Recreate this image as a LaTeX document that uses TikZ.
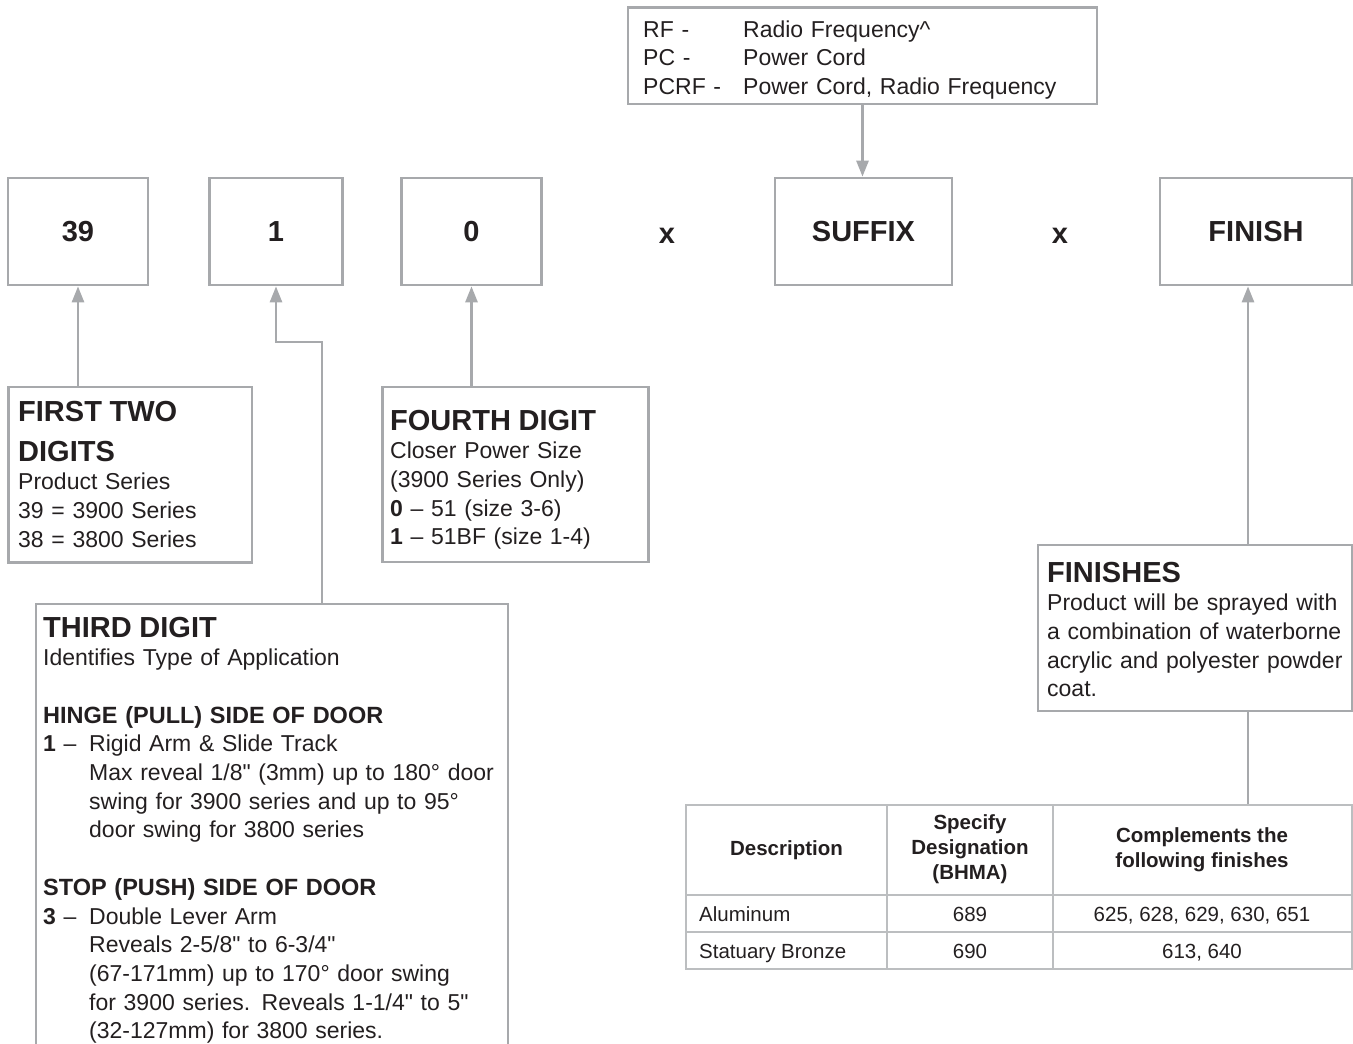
\documentclass[tikz,border=0pt]{standalone}
\usepackage{fontspec}
\setmainfont{Liberation Sans}[Ligatures=TeXOff]
\usetikzlibrary{arrows.meta}

\definecolor{linegray}{HTML}{A7A9AC}
\definecolor{rulegray}{HTML}{BCBEC0}
\definecolor{ink}{HTML}{231F20}

\newcommand\headfont{\fontsize{29}{34}\selectfont\bfseries}
\newcommand\subfont{\fontsize{23.5}{28.7}\selectfont\bfseries}
\newcommand\bodyfont{\fontsize{23}{28.7}\selectfont}
\newcommand\cellfont{\fontsize{20.5}{25}\selectfont}
\newcommand\itemno[1]{\makebox[46pt][l]{\textbf{#1} \textendash}}

\tikzset{
  digitbox/.style={rectangle, draw=linegray, line width=2.7pt, minimum height=107pt, inner sep=0pt, font=\headfont, text=ink},
  infobox/.style={rectangle, draw=linegray, line width=2.7pt, inner sep=0pt},
  infotext/.style={anchor=base west, align=left, inner sep=0pt, font=\bodyfont, text=ink},
  feed/.style={draw=linegray, line width=2.7pt, -{Triangle[length=16pt,width=12pt]}},
  link/.style={draw=linegray, line width=2.7pt},
  rule/.style={draw=rulegray, line width=1.6pt},
  cell/.style={font=\cellfont, text=ink, inner sep=0pt, align=center},
}

\begin{document}
\begin{tikzpicture}[x=1pt, y=-1pt]
\clip (0,0) rectangle (1353,1044);

% the part number, box by box
\node[digitbox, minimum width=140pt] (d39) at (78,231.5) {39};
\node[digitbox, minimum width=133pt] (d1) at (276,231.5) {1};
\node[digitbox, minimum width=140pt] (d0) at (471.5,231.5) {0};
\node[font=\headfont, text=ink, anchor=base] (x1) at (667,243) {x};
\node[digitbox, minimum width=177pt] (suffix) at (863.5,231.5) {SUFFIX};
\node[font=\headfont, text=ink, anchor=base] (x2) at (1060,243) {x};
\node[digitbox, minimum width=192pt] (finish) at (1256,231.5) {FINISH};

% suffix options
\node[infobox, minimum width=469pt, minimum height=96.5pt] (rf) at (862.5,55.75) {};
\node[infotext, text width=90pt] (rfcode) at (643,37) {RF -\\PC -\\PCRF -};
\node[infotext, text width=340pt] (rfname) at (743,37) {Radio Frequency\textasciicircum\\Power Cord\\Power Cord, Radio Frequency};

% first two digits
\node[infobox, minimum width=243.5pt, minimum height=175.5pt] (first) at (130.25,474.75) {};
\node[infotext, text width=230pt] (firsttext) at (18,421) {%
  {\headfont FIRST TWO\\[11.3pt]DIGITS}\\
  Product Series\\
  39 = 3900 Series\\
  38 = 3800 Series};

% fourth digit
\node[infobox, minimum width=266pt, minimum height=175pt] (fourth) at (515.5,474.5) {};
\node[infotext, text width=250pt] (fourthtext) at (390,430) {%
  {\headfont FOURTH DIGIT}\\
  Closer Power Size\\
  (3900 Series Only)\\
  \textbf{0} \textendash\ 51 (size 3-6)\\
  \textbf{1} \textendash\ 51BF (size 1-4)};

% third digit
\node[infobox, minimum width=472pt, minimum height=496pt] (third) at (272,852) {};
\node[infotext, text width=460pt] (thirdtext) at (43,637) {%
  {\headfont THIRD DIGIT}\\
  Identifies Type of Application\\[28.7pt]
  {\subfont HINGE (PULL) SIDE OF DOOR}\\
  \itemno{1}Rigid Arm \& Slide Track\\
  \hspace*{46pt}Max reveal 1/8" (3mm) up to 180° door\\
  \hspace*{46pt}swing for 3900 series and up to 95°\\
  \hspace*{46pt}door swing for 3800 series\\[28.7pt]
  {\subfont STOP (PUSH) SIDE OF DOOR}\\
  \itemno{3}Double Lever Arm\\
  \hspace*{46pt}Reveals 2-5/8" to 6-3/4"\\
  \hspace*{46pt}(67-171mm) up to 170° door swing\\
  \hspace*{46pt}for 3900 series. Reveals 1-1/4" to 5"\\
  \hspace*{46pt}(32-127mm) for 3800 series.};

% finishes
\node[infobox, minimum width=314pt, minimum height=166pt] (finishes) at (1195,628) {};
\node[infotext, text width=330pt] (finishtext) at (1047,582) {%
  {\headfont FINISHES}\\
  Product will be sprayed with\\
  a combination of waterborne\\
  acrylic and polyester powder\\
  coat.};

% finish table
\node[rectangle, rule, minimum width=666pt, minimum height=164pt, inner sep=0pt] (tbl) at (1019,887) {};
\draw[rule] (887,805) -- (887,969);
\draw[rule] (1053,805) -- (1053,969);
\draw[rule] (686,895) -- (1352,895);
\draw[rule] (686,932) -- (1352,932);
\node[cell, font=\cellfont\bfseries] (hdesc) at (786.5,850) {Description};
\node[cell, font=\cellfont\bfseries] (hspec) at (970,849) {Specify\\Designation\\(BHMA)};
\node[cell, font=\cellfont\bfseries] (hcomp) at (1202,849.5) {Complements the\\following finishes};
\node[cell, anchor=base west] (alu) at (699,921) {Aluminum};
\node[cell, anchor=base] (alucode) at (970,921) {689};
\node[cell, anchor=base] (alumatch) at (1202,921) {625, 628, 629, 630, 651};
\node[cell, anchor=base west] (bronze) at (699,958) {Statuary Bronze};
\node[cell, anchor=base] (bronzecode) at (970,958) {690};
\node[cell, anchor=base] (bronzematch) at (1202,958) {613, 640};

% connectors
\coordinate (bend) at (322,342);
\coordinate (tap) at (1248,400);
\draw[feed] (d39.south |- first.north) -- (d39.south);
\draw[feed] (bend |- third.north) -- (bend) -| (d1.south);
\draw[feed] (d0.south |- fourth.north) -- (d0.south);
\draw[feed] (rf.south) -- (rf.south |- suffix.north);
\draw[feed] (tap |- finishes.north) -- (tap |- finish.south);
\draw[link] (tap |- finishes.south) -- (tap |- tbl.north);
\end{tikzpicture}
\end{document}
